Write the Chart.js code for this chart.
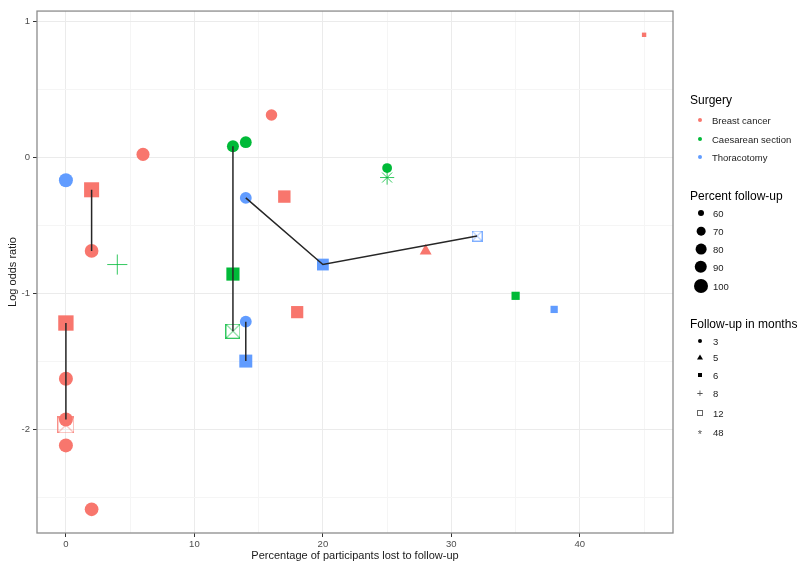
<!DOCTYPE html>
<html>
<head>
<meta charset="utf-8">
<script src="https://cdn.jsdelivr.net/npm/chart.js@4.4.1/dist/chart.umd.min.js"></script>
<style>
  body { margin: 0; background: #fff; font-family: "Liberation Sans", Arial, sans-serif; }
  #wrap { position: relative; width: 800px; height: 566px; }
  #legend { position: absolute; left: 0; top: 0; width: 800px; height: 566px; pointer-events: none; }
  .lg { position: absolute; transform: translateY(-50%); white-space: nowrap; }
  .lgTitle { font-size: 12px; color: #000; left: 690px; }
  .lgText { font-size: 9.5px; color: #222; }
  .sym { position: absolute; transform: translate(-50%, -50%); }
</style>
</head>
<body>
<div id="wrap">
  <canvas id="plot" width="800" height="566"></canvas>
  <div id="legend"></div>
</div>
<script>
// Surgery groups
const surgeryNames = ["Breast cancer", "Caesarean section", "Thoracotomy"];
const surgeryColors = ["#F8766D", "#00BA38", "#619CFF"];

// One entry per study
const surgery   = [0, 0, 0, 0, 0, 0, 0, 0, 0, 0, 0, 0, 0, 0,
                   1, 1, 1, 1, 1, 1, 1, 1,
                   2, 2, 2, 2, 2, 2, 2];
const lostPct   = [2, 2, 6, 16, 17, 18, 28, 45, 0, 0, 0, 0, 0, 2,
                   13, 14, 13, 13, 4, 25, 25, 35,
                   0, 14, 20, 32, 14, 14, 38];
const logOdds   = [-0.24, -0.69, 0.02, 0.31, -0.29, -1.14, -0.69, 0.90, -1.22, -1.63, -1.93, -1.97, -2.12, -2.59,
                   0.08, 0.11, -0.86, -1.28, -0.79, -0.08, -0.15, -1.02,
                   -0.17, -0.30, -0.79, -0.58, -1.21, -1.50, -1.12];
const followPct = [98, 98, 94, 84, 83, 82, 72, 55, 100, 100, 100, 100, 100, 98,
                   87, 86, 87, 87, 96, 75, 75, 65,
                   100, 86, 80, 68, 86, 86, 62];
const months    = [6, 3, 3, 3, 6, 6, 5, 6, 6, 3, 3, 12, 3, 3,
                   3, 3, 6, 12, 8, 3, 48, 6,
                   3, 3, 6, 12, 3, 6, 6];

// studies joined by black lines (indexes into the arrays above)
const links = [[0, 1], [8, 10], [14, 17], [26, 27], [23, 24, 25]];

// legend breaks
const sizeBreaks = [60, 70, 80, 90, 100];
const monthBreaks = [3, 5, 6, 8, 12, 48];

// axis ticks
const xTicks = [0, 5, 10, 15, 20, 25, 30, 35, 40, 45];
const xLabels = [0, 10, 20, 30, 40];
const yTicks = [-2.5, -2, -1.5, -1, -0.5, 0, 0.5, 1];
const yLabels = [-2, -1, 0, 1];

function baseRadius(pct) {
  return Math.sqrt(Math.max(9 + (pct - 60), 4));
}

function boxCross(color, r) {
  const side = Math.round(2.2 * r);
  const c = document.createElement("canvas");
  c.width = side + 2;
  c.height = side + 2;
  const g = c.getContext("2d");
  g.strokeStyle = color;
  g.globalAlpha = 0.8;
  g.lineWidth = 1;
  g.strokeRect(0.5, 0.5, side + 1, side + 1);
  g.beginPath();
  g.moveTo(0.5, 0.5); g.lineTo(side + 1.5, side + 1.5);
  g.moveTo(side + 1.5, 0.5); g.lineTo(0.5, side + 1.5);
  g.stroke();
  return c;
}

function pointLook(i) {
  const col = surgeryColors[surgery[i]];
  const r = baseRadius(followPct[i]);
  switch (months[i]) {
    case 5:  return { style: "triangle", radius: r * 1.5, bg: col, bw: 0 };
    case 6:  return { style: "rect", radius: r * 1.55, bg: col, bw: 0 };
    case 8:  return { style: "cross", radius: r * 1.5, bg: col, bw: 1 };
    case 12: return { style: boxCross(col, r), radius: r, bg: col, bw: 0 };
    case 48: return { style: "star", radius: r * 1.45, bg: col, bw: 1 };
    default: return { style: "circle", radius: r, bg: col, bw: 0 };
  }
}

const datasets = [];

links.forEach(function (path) {
  datasets.push({
    type: "scatter",
    showLine: true,
    data: path.map(i => ({ x: lostPct[i], y: logOdds[i] })),
    borderColor: "#262626",
    borderWidth: 1.5,
    pointRadius: 0,
    order: 1
  });
});

surgeryNames.forEach(function (name, s) {
  const idx = [];
  for (let i = 0; i < surgery.length; i++) {
    if (surgery[i] === s) idx.push(i);
  }
  const looks = idx.map(pointLook);
  datasets.push({
    label: name,
    data: idx.map(i => ({ x: lostPct[i], y: logOdds[i] })),
    pointStyle: looks.map(l => l.style),
    pointRadius: looks.map(l => l.radius),
    backgroundColor: looks.map(l => l.bg),
    borderColor: surgeryColors[s] + "cc",
    borderWidth: looks.map(l => l.bw),
    order: 2
  });
});

const frame = {
  id: "frame",
  afterDraw(chart) {
    const a = chart.chartArea;
    const ctx = chart.ctx;
    ctx.save();
    ctx.strokeStyle = "#8c8c8c";
    ctx.lineWidth = 1.3;
    ctx.strokeRect(a.left, a.top, a.right - a.left, a.bottom - a.top);
    ctx.restore();
  }
};

const tickFont = { family: "'Liberation Sans', Arial, sans-serif", size: 9.5 };
const titleFont = { family: "'Liberation Sans', Arial, sans-serif", size: 11 };

const scatter = new Chart(document.getElementById("plot").getContext("2d"), {
  type: "scatter",
  data: { datasets: datasets },
  options: {
    responsive: false,
    animation: false,
    events: [],
    layout: { padding: { left: 0, right: 127, top: 6, bottom: 0 } },
    plugins: { legend: { display: false }, tooltip: { enabled: false } },
    scales: {
      x: {
        min: -2.25,
        max: 47.25,
        afterBuildTicks: function (scale) { scale.ticks = xTicks.map(v => ({ value: v })); },
        afterFit: function (scale) { scale.height = 33; },
        border: { display: false },
        grid: {
          color: c => xLabels.includes(c.tick.value) ? "#ebebeb" : "#f5f5f5",
          tickColor: c => xLabels.includes(c.tick.value) ? "#333" : "rgba(0,0,0,0)",
          tickLength: 4
        },
        ticks: {
          autoSkip: false,
          maxRotation: 0,
          padding: 2,
          color: "#4d4d4d",
          font: tickFont,
          callback: v => xLabels.includes(v) ? String(v) : ""
        },
        title: {
          display: true,
          text: "Percentage of participants lost to follow-up",
          color: "#1a1a1a",
          font: titleFont,
          padding: { top: 0, bottom: 3 }
        }
      },
      y: {
        min: -2.7645,
        max: 1.0745,
        afterBuildTicks: function (scale) { scale.ticks = yTicks.map(v => ({ value: v })); },
        afterFit: function (scale) { scale.width = 37; },
        border: { display: false },
        grid: {
          color: c => yLabels.includes(c.tick.value) ? "#ebebeb" : "#f5f5f5",
          tickColor: c => yLabels.includes(c.tick.value) ? "#333" : "rgba(0,0,0,0)",
          tickLength: 4
        },
        ticks: {
          autoSkip: false,
          padding: 3,
          color: "#4d4d4d",
          font: tickFont,
          callback: v => yLabels.includes(v) ? String(v) : ""
        },
        title: {
          display: true,
          text: "Log odds ratio",
          color: "#1a1a1a",
          font: titleFont,
          padding: { top: 6, bottom: 0 }
        }
      }
    }
  },
  plugins: [frame]
});

// Legend (HTML)
const legend = document.getElementById("legend");

function addText(cls, text, left, y) {
  const d = document.createElement("div");
  d.className = "lg " + cls;
  d.textContent = text;
  if (left !== null) d.style.left = left + "px";
  d.style.top = y + "px";
  legend.appendChild(d);
}

function addSym(x, y, css, html) {
  const d = document.createElement("div");
  d.className = "sym";
  d.style.left = x + "px";
  d.style.top = y + "px";
  Object.assign(d.style, css);
  if (html) d.textContent = html;
  legend.appendChild(d);
}

addText("lgTitle", "Surgery", null, 100);
const surgeryRows = [120, 139, 157];
surgeryNames.forEach(function (name, s) {
  addSym(700, surgeryRows[s], { width: "4px", height: "4px", borderRadius: "50%", background: surgeryColors[s] });
  addText("lgText", name, 712, surgeryRows[s]);
});

addText("lgTitle", "Percent follow-up", null, 196);
const sizeRows = [213, 231, 249, 267, 286];
sizeBreaks.forEach(function (v, k) {
  const d = 2 * baseRadius(v);
  addSym(701, sizeRows[k], { width: d + "px", height: d + "px", borderRadius: "50%", background: "#000" });
  addText("lgText", String(v), 713, sizeRows[k]);
});

addText("lgTitle", "Follow-up in months", null, 324);
const monthRows = [341, 357, 375, 393, 413, 432];
monthBreaks.forEach(function (m, k) {
  const y = monthRows[k];
  if (m === 3) addSym(700, y, { width: "4px", height: "4px", borderRadius: "50%", background: "#000" });
  if (m === 5) addSym(700, y, { width: "0", height: "0", borderLeft: "3px solid transparent", borderRight: "3px solid transparent", borderBottom: "5px solid #000" });
  if (m === 6) addSym(700, y, { width: "4px", height: "4px", background: "#000" });
  if (m === 8) addSym(700, y, { fontSize: "11px", color: "#555", lineHeight: "11px" }, "+");
  if (m === 12) addSym(700, y, { width: "4px", height: "4px", border: "1px solid #666" });
  if (m === 48) addSym(700, y + 2, { fontSize: "11px", color: "#555", lineHeight: "11px" }, "*");
  addText("lgText", String(m), 713, y);
});
</script>
</body>
</html>
